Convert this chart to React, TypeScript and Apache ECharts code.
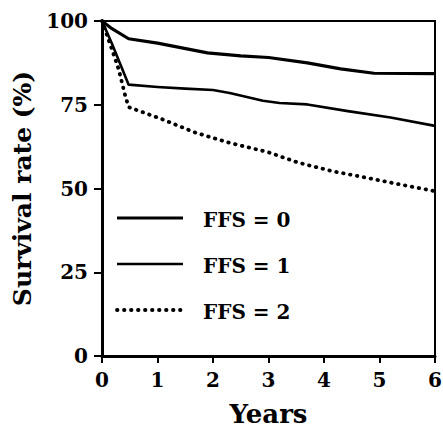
import React, { useEffect, useRef } from "react";
import * as echarts from "echarts";

const seriesNames = ["FFS = 0", "FFS = 1", "FFS = 2"];
const yTicks = [0, 25, 50, 75, 100];
const xTicks = [0, 1, 2, 3, 4, 5, 6];

const ffs0: [number, number][] = [
  [0, 100], [0.18, 97.7], [0.48, 94.7], [1, 93.4], [1.9, 90.5], [2.5, 89.6],
  [3, 89.1], [3.7, 87.5], [4.3, 85.7], [4.9, 84.4], [6, 84.3],
];
const ffs1: [number, number][] = [
  [0, 100], [0.18, 93.2], [0.48, 81], [1, 80.3], [1.5, 79.8], [2, 79.4],
  [2.3, 78.5], [2.9, 76.2], [3.2, 75.5], [3.7, 75.1], [4.43, 73.1],
  [5.2, 71.2], [6, 68.7],
];
const ffs2: [number, number][] = [
  [0, 100], [0.18, 91.5], [0.3, 85.6], [0.42, 77.6], [0.48, 74.3],
  [1.08, 70.7], [1.68, 66.7], [2.28, 63.7], [3, 60.8], [3.54, 57.7],
  [4.14, 55.2], [4.74, 53.3], [5.34, 51.3], [6, 49.2],
];

const FONT = "DejaVu Serif";

export default function App() {
  const ref = useRef<HTMLDivElement>(null);
  useEffect(() => {
    if (!ref.current) return;
    const chart = echarts.init(ref.current, undefined, { renderer: "svg" });
    const styles = [
      { type: "solid" as any, width: 3.2, cap: "butt" as const },
      { type: "solid" as any, width: 2.6, cap: "butt" as const },
      { type: [0.5, 6.5] as any, width: 3.8, cap: "round" as const },
    ];
    const datas = [ffs0, ffs1, ffs2];
    const legendY = [218, 264, 310];
    const graphics: any[] = [];
    seriesNames.forEach((n, i) => {
      graphics.push({
        type: "line",
        shape: { x1: 117, y1: legendY[i], x2: 183, y2: legendY[i] },
        style: {
          stroke: "#000",
          lineWidth: styles[i].width,
          lineDash: Array.isArray(styles[i].type) ? styles[i].type : null,
          lineCap: styles[i].cap,
        },
      });
      graphics.push({
        type: "text",
        x: 203,
        y: legendY[i] + 2,
        style: {
          text: n,
          fill: "#000",
          font: `bold 20px "${FONT}"`,
          textVerticalAlign: "middle",
          verticalAlign: "middle",
        },
      });
    });
    chart.setOption({
      animation: false,
      backgroundColor: "#fff",
      grid: {
        left: 102,
        right: 8,
        top: 21,
        bottom: 72,
        outerBoundsMode: "none",
        containLabel: false,
        show: true,
        borderColor: "#000",
        borderWidth: 2,
        backgroundColor: "transparent",
      },
      xAxis: {
        type: "value",
        min: 0,
        max: 6,
        interval: 1,
        name: "Years",
        nameLocation: "middle",
        nameGap: 45,
        nameTextStyle: { fontFamily: FONT, fontWeight: "bold", fontSize: 26, color: "#000" },
        axisLine: { show: true, lineStyle: { color: "#000", width: 3 } },
        axisTick: { show: true, length: 7, lineStyle: { color: "#000", width: 2 } },
        axisLabel: {
          margin: 14,
          fontFamily: FONT,
          fontWeight: "bold",
          fontSize: 20,
          color: "#000",
          formatter: (v: number) => (xTicks.includes(v) ? String(v) : ""),
        },
        splitLine: { show: false },
      },
      yAxis: {
        type: "value",
        min: 0,
        max: 100,
        interval: 25,
        name: "Survival rate (%)",
        nameLocation: "middle",
        nameGap: 62,
        nameRotate: 90,
        nameTextStyle: { fontFamily: FONT, fontWeight: "bold", fontSize: 25, color: "#000" },
        axisLine: { show: true, lineStyle: { color: "#000", width: 3 } },
        axisTick: { show: true, length: 8, lineStyle: { color: "#000", width: 2 } },
        axisLabel: {
          margin: 14,
          fontFamily: FONT,
          fontWeight: "bold",
          fontSize: 20,
          color: "#000",
          formatter: (v: number) => (yTicks.includes(v) ? String(v) : ""),
        },
        splitLine: { show: false },
      },
      series: seriesNames.map((n, i) => ({
        name: n,
        type: "line",
        data: datas[i],
        showSymbol: false,
        symbol: "none",
        lineStyle: {
          color: "#000",
          width: styles[i].width,
          type: styles[i].type,
          cap: styles[i].cap,
          join: "round",
        },
      })),
      graphic: graphics,
    });
    return () => chart.dispose();
  }, []);
  return (
    <div
      ref={ref}
      style={{ position: "fixed", left: 0, top: 0, width: 443, height: 428, background: "#fff" }}
    />
  );
}
